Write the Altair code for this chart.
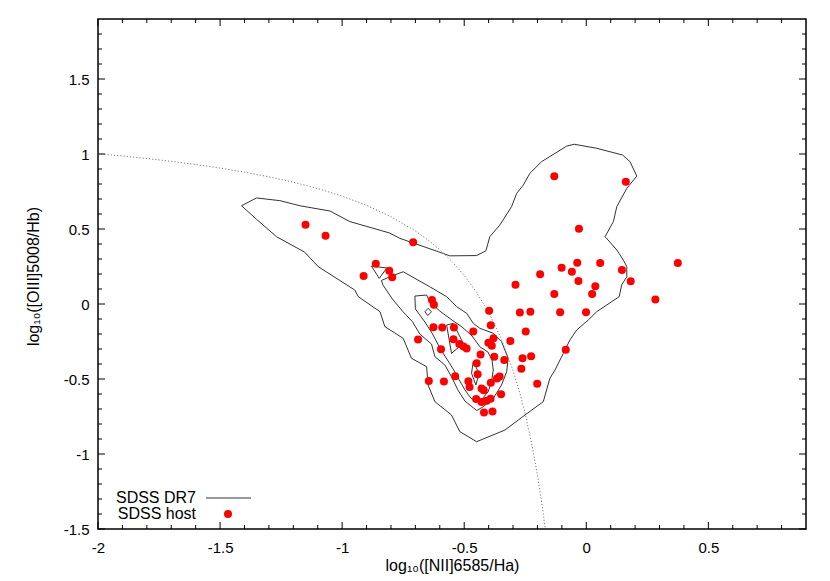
import altair as alt
import pandas as pd

# ---------------- data ----------------
host_x = [-1.150, -1.068, -0.709, -0.862, -0.807, -0.795, -0.912, -0.632, -0.624, -0.626,
          -0.590, -0.542, -0.463, -0.689, -0.544, -0.520, -0.503, -0.490, -0.595, -0.398,
          -0.391, -0.401, -0.380, -0.387, -0.433, -0.377, -0.336, -0.449, -0.445, -0.537,
          -0.645, -0.583, -0.483, -0.478, -0.391, -0.366, -0.355, -0.429, -0.420, -0.349,
          -0.451, -0.429, -0.408, -0.392, -0.419, -0.384, -0.311, -0.290, -0.272, -0.229,
          -0.248, -0.261, -0.226, -0.266, -0.201, -0.189, -0.131, -0.131, -0.101, -0.107,
          -0.059, -0.037, -0.030, -0.032, -0.001, 0.024, 0.037, 0.057, -0.084, 0.162,
          0.146, 0.182, 0.283, 0.375]
host_y = [0.529, 0.455, 0.411, 0.269, 0.222, 0.178, 0.187, 0.027, -0.005, -0.155,
          -0.157, -0.157, -0.183, -0.236, -0.235, -0.267, -0.283, -0.297, -0.302, -0.045,
          -0.141, -0.259, -0.228, -0.279, -0.336, -0.352, -0.373, -0.395, -0.469, -0.481,
          -0.513, -0.517, -0.515, -0.553, -0.525, -0.496, -0.483, -0.564, -0.575, -0.601,
          -0.634, -0.653, -0.645, -0.632, -0.723, -0.717, -0.247, 0.128, -0.056, -0.052,
          -0.183, -0.362, -0.348, -0.432, -0.531, 0.198, 0.851, 0.066, 0.242, -0.055,
          0.215, 0.275, 0.502, 0.153, -0.055, 0.067, 0.119, 0.273, -0.305, 0.815,
          0.226, 0.151, 0.030, 0.273]

# SDSS DR7 density contours (closed polylines)
outer_x = [-1.412, -1.351, -1.255, -1.173, -1.050, -0.968, -0.886, -0.805, -0.764, -0.607,
           -0.559, -0.449, -0.411, -0.395, -0.354, -0.306, -0.285, -0.258, -0.231, -0.183,
           -0.080, -0.049, 0.043, 0.149, 0.179, 0.207, 0.166, 0.125, 0.111, 0.077,
           0.125, 0.152, 0.166, 0.166, 0.145, 0.135, 0.043, 0.008, -0.039, -0.067,
           -0.094, -0.128, -0.149, -0.176, -0.251, -0.333, -0.449, -0.518, -0.552, -0.620,
           -0.648, -0.654, -0.716, -0.750, -0.825, -0.845, -0.934, -0.948, -1.098, -1.153,
           -1.269, -1.351, -1.412]
outer_y = [0.655, 0.707, 0.689, 0.655, 0.620, 0.549, 0.511, 0.473, 0.438, 0.349,
           0.321, 0.323, 0.355, 0.449, 0.527, 0.649, 0.738, 0.793, 0.871, 0.949,
           1.053, 1.065, 1.038, 0.993, 0.949, 0.853, 0.771, 0.649, 0.549, 0.449,
           0.360, 0.293, 0.249, 0.182, 0.127, 0.049, -0.051, -0.107, -0.173, -0.240,
           -0.329, -0.440, -0.495, -0.651, -0.740, -0.840, -0.918, -0.851, -0.740, -0.651,
           -0.540, -0.418, -0.362, -0.229, -0.151, -0.051, 0.049, 0.093, 0.249, 0.345,
           0.449, 0.565, 0.655]

second_x = [-0.839, -0.796, -0.750, -0.641, -0.572, -0.531, -0.490, -0.463, -0.436, -0.381,
            -0.347, -0.320, -0.326, -0.347, -0.381, -0.422, -0.449, -0.497, -0.526, -0.552,
            -0.579, -0.620, -0.634, -0.682, -0.712, -0.751, -0.794, -0.833, -0.839]
second_y = [0.157, 0.187, 0.215, 0.115, 0.049, -0.018, -0.062, -0.129, -0.162, -0.195,
            -0.251, -0.362, -0.451, -0.540, -0.629, -0.685, -0.710, -0.647, -0.573, -0.485,
            -0.407, -0.351, -0.267, -0.200, -0.118, -0.051, 0.033, 0.127, 0.157]

third_x = [-0.702, -0.654, -0.641, -0.600, -0.550, -0.509, -0.468, -0.436, -0.403, -0.386,
           -0.381, -0.388, -0.402, -0.427, -0.452, -0.473, -0.497, -0.518, -0.538, -0.563,
           -0.595, -0.632, -0.661, -0.700, -0.702]
third_y = [0.053, 0.060, 0.013, -0.047, -0.107, -0.153, -0.213, -0.285, -0.320, -0.373,
           -0.440, -0.518, -0.585, -0.633, -0.653, -0.627, -0.573, -0.513, -0.453, -0.387,
           -0.307, -0.193, -0.120, -0.033, 0.053]

islet_x = [-0.880, -0.817, -0.848, -0.880]
islet_y = [0.253, 0.240, 0.171, 0.253]

core_a_x = [-0.572, -0.545, -0.504, -0.552, -0.572]
core_a_y = [-0.140, -0.129, -0.262, -0.329, -0.140]

core_b_x = [-0.661, -0.648, -0.634, -0.649, -0.661]
core_b_y = [-0.051, -0.029, -0.051, -0.077, -0.051]

core_c_x = [-0.463, -0.439, -0.452, -0.470, -0.463]
core_c_y = [-0.385, -0.462, -0.540, -0.462, -0.385]

# Kauffmann et al. (2003) demarcation
kauf_x = [-2.0, -1.9, -1.8, -1.7, -1.6, -1.5, -1.4, -1.3, -1.2, -1.1, -1.0, -0.9, -0.8,
          -0.7, -0.65, -0.6, -0.55, -0.5, -0.45, -0.4, -0.35, -0.3, -0.27, -0.25, -0.22,
          -0.2, -0.18, -0.168]
kauf_y = [1.002, 0.987, 0.970, 0.951, 0.930, 0.906, 0.879, 0.848, 0.812, 0.770, 0.719,
          0.658, 0.582, 0.487, 0.429, 0.362, 0.283, 0.191, 0.080, -0.056, -0.225, -0.443,
          -0.606, -0.733, -0.959, -1.140, -1.352, -1.498]

x_major = [-2, -1.5, -1, -0.5, 0, 0.5]
x_minor = [-1.9, -1.8, -1.7, -1.6, -1.4, -1.3, -1.2, -1.1, -0.9, -0.8, -0.7, -0.6,
           -0.4, -0.3, -0.2, -0.1, 0.1, 0.2, 0.3, 0.4, 0.6, 0.7, 0.8]
y_major = [-1.5, -1, -0.5, 0, 0.5, 1, 1.5]
y_minor = [-1.4, -1.3, -1.2, -1.1, -0.9, -0.8, -0.7, -0.6, -0.4, -0.3, -0.2, -0.1,
           0.1, 0.2, 0.3, 0.4, 0.6, 0.7, 0.8, 0.9, 1.1, 1.2, 1.3, 1.4, 1.6, 1.7, 1.8]

legend_labels = ["SDSS DR7", "SDSS host"]
x_title = "log\u2081\u2080([NII]6585/Ha)"
y_title = "log\u2081\u2080([OIII]5008/Hb)"

# ---------------- build tables ----------------
rows = []
for cid, xs_, ys_ in [("outer", outer_x, outer_y), ("second", second_x, second_y),
                      ("third", third_x, third_y), ("islet", islet_x, islet_y),
                      ("core_a", core_a_x, core_a_y), ("core_b", core_b_x, core_b_y),
                      ("core_c", core_c_x, core_c_y)]:
    for i, (a, b) in enumerate(zip(xs_, ys_)):
        rows.append({"cid": cid, "i": i, "x": a, "y": b})
cdf = pd.DataFrame(rows)
hdf = pd.DataFrame({"x": host_x, "y": host_y})
kdf = pd.DataFrame({"x": kauf_x, "y": kauf_y, "i": list(range(len(kauf_x)))})

W, H = 708, 510
FONT = "Liberation Sans"
xsc = alt.Scale(domain=[-2, 0.9], nice=False, zero=False)
ysc = alt.Scale(domain=[-1.5, 1.9], nice=False, zero=False)

xaxis = alt.Axis(values=x_major, labelExpr="'' + datum.value", ticks=False, tickSize=0,
                 domain=False, grid=False, labelFont=FONT, labelFontSize=15,
                 labelColor="black", labelPadding=11, labelFlush=False,
                 title=x_title, titleFont=FONT, titleFontSize=16, titleFontWeight="normal",
                 titleColor="black", titleY=36, titleBaseline="middle")
yaxis = alt.Axis(values=y_major, labelExpr="'' + datum.value", ticks=False, tickSize=0,
                 domain=False, grid=False, labelFont=FONT, labelFontSize=15,
                 labelColor="black", labelPadding=9, labelFlush=False,
                 title=y_title, titleFont=FONT, titleFontSize=16, titleFontWeight="normal",
                 titleColor="black", titleX=-65, titleY=H / 2 + 2, titleBaseline="middle")


def X(field):
    return alt.X(field, scale=xsc, axis=xaxis)


def Y(field):
    return alt.Y(field, scale=ysc, axis=yaxis)


contours = alt.Chart(cdf).mark_line(color="#333333", strokeWidth=1).encode(
    x=X("x:Q"), y=Y("y:Q"), detail="cid:N", order="i:Q",
)

kauf = alt.Chart(kdf).mark_line(color="#7a7a7a", strokeWidth=1, strokeDash=[1.2, 2],
                                clip=True).encode(
    x=X("x:Q"), y=Y("y:Q"), order="i:Q",
)

dots = alt.Chart(hdf).mark_circle(color="#ff0000", size=64, opacity=1).encode(
    x=X("x:Q"), y=Y("y:Q"),
)

# inward tick marks on all four sides (gnuplot style)
tick_layers = []
for vals, L in [(x_major, 7), (x_minor, 4)]:
    tdf = pd.DataFrame({"x": vals})
    tick_layers.append(alt.Chart(tdf).mark_rule(color="black", strokeWidth=1).encode(
        x=X("x:Q"), y=alt.value(H), y2=alt.value(H - L)))
    tick_layers.append(alt.Chart(tdf).mark_rule(color="black", strokeWidth=1).encode(
        x=X("x:Q"), y=alt.value(0), y2=alt.value(L)))
for vals, L in [(y_major, 7), (y_minor, 4)]:
    tdf = pd.DataFrame({"y": vals})
    tick_layers.append(alt.Chart(tdf).mark_rule(color="black", strokeWidth=1).encode(
        y=Y("y:Q"), x=alt.value(0), x2=alt.value(L)))
    tick_layers.append(alt.Chart(tdf).mark_rule(color="black", strokeWidth=1).encode(
        y=Y("y:Q"), x=alt.value(W), x2=alt.value(W - L)))

# key (bottom-left, labels right-aligned with sample to the right)
ldf = pd.DataFrame({"label": legend_labels})
key_row_y = [479, 495]
key_layers = []
for k in range(2):
    key_layers.append(alt.Chart(ldf.iloc[[k]]).mark_text(
        align="right", baseline="middle", font=FONT, fontSize=16, color="black").encode(
        x=alt.value(98), y=alt.value(key_row_y[k]), text="label:N"))
key_layers.append(alt.Chart(ldf.iloc[[0]]).mark_rule(color="#777777", strokeWidth=1.5).encode(
    x=alt.value(108), x2=alt.value(153), y=alt.value(key_row_y[0])))
key_layers.append(alt.Chart(ldf.iloc[[1]]).mark_circle(color="#ff0000", size=64, opacity=1).encode(
    x=alt.value(130), y=alt.value(key_row_y[1])))

chart = alt.layer(contours, kauf, *tick_layers, dots, *key_layers).properties(
    width=W, height=H,
    autosize=alt.AutoSizeParams(type="none"),
    padding={"left": 90, "top": 11, "right": 16, "bottom": 52},
    background="white",
).configure_view(stroke="black", strokeWidth=1.5)

chart.save("out.html", embed_options={"renderer": "svg", "actions": False})
